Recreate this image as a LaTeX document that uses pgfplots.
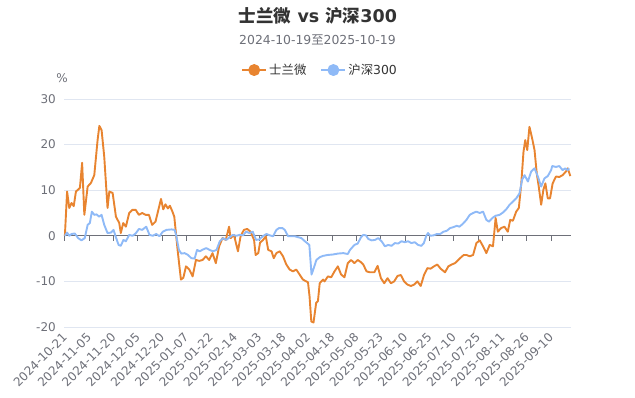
\documentclass[border=0pt]{standalone}
\usepackage{pgfplots}
\pgfplotsset{compat=1.18}
\usepackage{fontspec}
\setmainfont{DejaVu Sans}
\newfontfamily\cjk{Noto Sans CJK SC}
\definecolor{cOrange}{RGB}{232,132,48}
\definecolor{cBlue}{RGB}{143,186,247}
\definecolor{cGrid}{RGB}{224,230,241}
\definecolor{cAxis}{RGB}{110,112,121}
\definecolor{cTitle}{RGB}{51,51,51}
\begin{document}
\begin{tikzpicture}
\useasboundingbox (0pt,0pt) rectangle (635pt,397pt);
\node[font=\bfseries\fontsize{17.5}{20}\selectfont, text=cTitle] at (318pt,381pt) {{\cjk\bfseries 士兰微} vs {\cjk\bfseries 沪深}300};
\node[font=\fontsize{12.4}{14}\selectfont, text=cAxis] at (317.5pt,357pt) {2024-10-19{\cjk 至}2025-10-19};
\node[font=\fontsize{12}{14}\selectfont, text=cAxis] at (62pt,319pt) {\%};
\begin{axis}[
  at={(64pt,70pt)}, anchor=south west,
  scale only axis, width=507pt, height=228pt,
  xmin=-0.4, xmax=229, ymin=-20, ymax=30,
  axis line style={draw=none},
  xtick={0,11,...,220},
  xticklabels={2024-10-21,2024-11-05,2024-11-20,2024-12-05,2024-12-20,2025-01-07,2025-01-22,2025-02-14,2025-03-03,2025-03-18,2025-04-02,2025-04-18,2025-05-08,2025-05-23,2025-06-10,2025-06-25,2025-07-10,2025-07-25,2025-08-11,2025-08-26,2025-09-10},
  xticklabel style={yshift=-8pt, xshift=0pt, rotate=45, anchor=east, inner sep=0pt, font=\fontsize{12}{14}\selectfont, text=cAxis},
  xtick style={draw=none},
  ytick={-20,-10,0,10,20,30},
  yticklabels={-20,-10,0,10,20,30},
  yticklabel style={anchor=east, inner sep=0pt, xshift=-8pt, font=\fontsize{12}{14}\selectfont, text=cAxis},
  ytick style={draw=none},
  ymajorgrids, grid style={cGrid, line width=0.8pt},
  clip=false,
  legend columns=2,
  legend style={draw=none, fill=none, at={(0.505,1.127)}, anchor=center,
    font=\fontsize{12.4}{14}\selectfont, text=cTitle,
    /tikz/every even column/.append style={column sep=12pt}},
  legend image code/.code={\draw[#1, line width=2pt] (0pt,0pt) -- (24pt,0pt); \fill[#1] (12pt,0pt) circle (5pt);},
]
\draw[cAxis, line width=1pt] (axis cs:-0.4,0) -- (axis cs:229,0);
\pgfplotsinvokeforeach{0,11,...,220}{\draw[cAxis, line width=1pt] (axis cs:#1,0) -- ++(0pt,-5pt);}
\addplot[cOrange, line width=1.9pt, line join=round] coordinates {
(0,0) (1,9.7) (2,6.1) (3,7.2) (4,6.5) (5,9.7) (6.8,10.5) (7.8,16) (8.8,4.6) (10.3,10.8)
(11.8,11.6) (13.3,13.3) (14.8,21) (15.6,24.1) (16.6,23.2) (17.8,17.4) (19.3,6.1) (20.1,9.7) (21.6,9.4) (23.1,4.2)
(24.6,2.8) (25.3,0.6) (26.4,2.8) (27.6,2.0) (29.1,5.0) (30.6,5.7) (32,5.7) (33.5,4.6) (35,5.0) (36.5,4.6)
(38,4.6) (39.5,2.4) (41,3.1) (43.5,8.1) (44.5,5.8) (45.5,6.9) (46.6,6.0) (47.5,6.6) (48.5,5.5) (49.5,4.2)
(51,-3.1) (52.5,-9.6) (53.6,-9.2) (54.8,-6.7) (56.3,-7.4) (57.8,-8.9) (59.3,-5.3) (60.8,-5.5) (62.3,-5.3) (63.8,-4.5)
(65.3,-5.3) (66.8,-3.8) (68.3,-6.0) (69.8,-2.3) (71.3,-0.5) (72.8,-0.9) (74.3,2.0) (75,-0.5) (76.5,0.2) (78.3,-3.4)
(79.5,-0.1) (81,1.3) (82.5,1.5) (84,0.9) (85.6,-0.9) (86.3,-4.2) (87.5,-3.8) (88.3,-1.5) (89.7,-0.9) (90.9,-0.1)
(92,-3.1) (93.5,-3.4) (94.5,-4.9) (95.7,-3.8) (97.2,-3.4) (98.7,-4.5) (100.2,-6.3) (101.7,-7.4) (103.2,-7.8) (104.7,-7.4)
(106.2,-8.5) (107.7,-9.6) (110,-10.2) (110.7,-13.3) (111.5,-18.8) (112.5,-19) (113.7,-14.7) (114.5,-14.3) (115.3,-10.4) (116.8,-9.6)
(117.5,-10) (119,-8.9) (120.5,-9.1) (122,-7.8) (123.5,-6.7) (125,-8.5) (126.5,-9.1) (128,-6.0) (129.5,-5.3) (131,-6.0)
(132.5,-5.3) (134,-5.8) (135,-6.3) (136.5,-7.8) (138,-8.0) (140,-8.0) (141.5,-6.6) (143,-9.3) (144.5,-10.4) (146,-9.3)
(147.5,-10.4) (149,-10) (150.5,-8.8) (152,-8.6) (153.5,-10) (155,-10.7) (156.6,-11) (158,-10.7) (159.5,-10) (161,-11)
(162.5,-8.6) (164,-7.1) (165.5,-7.2) (167,-6.7) (168.5,-6.3) (170,-7.2) (172,-8.0) (173.5,-6.7) (175,-6.3) (176.5,-6.0)
(178,-5.3) (179.5,-4.6) (180.5,-4.2) (181.7,-4.2) (183.2,-4.5) (184.7,-4.2) (186.2,-1.6) (187.7,-1.0) (189.2,-2.3) (190.7,-3.8)
(192.2,-2.0) (193.7,-2.3) (194.9,3.9) (195.9,0.9) (197.4,1.7) (198.9,2.0) (200.4,0.9) (201.5,3.5) (202.7,3.3) (204.2,5.3)
(205.4,6.1) (206.5,11.5) (207.5,18.4) (208.3,21) (209.2,18.8) (210.2,23.9) (211.4,21.4) (212.5,18.8) (213.5,13.7) (214.4,10.8)
(215.5,6.8) (216.5,10.1) (217.4,11.5) (218.5,8.2) (219.5,8.2) (220.7,11.5) (222.2,13.0) (223.7,12.9) (225.2,13.3) (226.7,14.1)
(227.5,14.8) (228.7,13.1)
};
\addlegendentry{\cjk 士兰微}
\addplot[cBlue, line width=1.9pt, line join=round] coordinates {
(0,0) (1,0.7) (2,0) (3,0.4) (4.5,0.5) (6,-0.5) (7.5,-1.0) (9,-0.5) (10.3,2.4) (11.3,2.8)
(12.2,5.3) (13.3,4.6) (14.3,4.7) (15.5,4.2) (16.6,4.6) (17.8,2.4) (19.3,0.6) (20.8,0.7) (22,1.3) (23,-0.2)
(24.3,-2.0) (25.3,-2.2) (26.5,-0.9) (27.6,-1.2) (29.1,0.2) (30.6,0) (32,0.5) (33.5,1.5) (35,1.3) (36.8,2.0)
(38.3,0.2) (39.8,0) (41.3,0.4) (42.8,-0.1) (44.3,0.9) (46,1.3) (48.3,1.4) (49.7,1.3) (50.4,0) (51.6,-3.1)
(52.7,-3.9) (54.2,-3.8) (55.7,-4.2) (57.2,-4.9) (58.7,-5.0) (59.8,-3.1) (61,-3.4) (62.5,-3.0) (64,-2.7) (65.5,-3.1)
(67,-3.4) (68.6,-3.1) (70.1,-1.2) (71.6,-0.5) (73,-0.9) (74.6,-0.3) (76,0.2) (77.6,0) (79,0.2) (80.6,0.1)
(82,0.9) (83.5,0.6) (85,0.9) (86.5,-0.9) (88,-0.8) (89.5,-0.1) (91.2,0.4) (92.7,0.1) (94.2,-0.1) (95.7,1.3)
(96.9,1.7) (98.4,1.7) (99.5,1.3) (101,-0.1) (102.5,-0.1) (104,-0.1) (105.5,-0.3) (107,-0.5) (108.6,-1.2) (110.6,-2.0)
(111.6,-8.5) (112.6,-7.1) (113.8,-5.3) (115.3,-4.7) (116.8,-4.4) (119,-4.2) (121.3,-4.1) (123.5,-3.9) (126,-3.8) (128,-4.0)
(129,-3.1) (131,-2.0) (132.5,-1.7) (134,-0.3) (135,0.2) (136.2,0.1) (137.3,-0.7) (138.8,-1.0) (140.3,-0.9) (141.8,-0.5)
(143.3,-1.2) (144.8,-2.3) (146.3,-2.0) (147.8,-2.2) (149.3,-1.6) (150.8,-1.7) (152.3,-1.2) (153.8,-1.4) (155.3,-1.2) (156.8,-1.6)
(158.3,-1.4) (159.8,-2.0) (161.3,-2.2) (162.4,-1.6) (163.5,0) (164.3,0.6) (165.3,0) (166.8,0.1) (168.3,0.4) (169.8,0.4)
(171.3,0.9) (172.8,1.1) (174.3,1.7) (175.8,1.9) (177.3,2.2) (178.5,2.0) (180,2.6) (181.7,3.5) (183.2,4.6) (184.7,5.0)
(186.2,5.3) (187.7,5.0) (189.2,5.3) (190.7,3.5) (191.9,3.1) (193.4,3.9) (194.9,4.4) (196.7,4.6) (198.2,5.1) (199.7,5.8)
(201.2,6.8) (202.7,7.5) (204.2,8.2) (205.7,9.3) (206.9,12.3) (208,13.3) (209.5,11.9) (211,14.1) (212.5,14.8) (214,13.0)
(215.5,10.8) (217,12.6) (218.5,13.1) (220,14.4) (220.5,15.3) (222.2,15.1) (223.7,15.3) (225.2,14.4) (226.4,14.8) (227.5,14.4)
(228.2,14.8)
};
\addlegendentry{{\cjk 沪深}300}
\end{axis}
\end{tikzpicture}
\end{document}
